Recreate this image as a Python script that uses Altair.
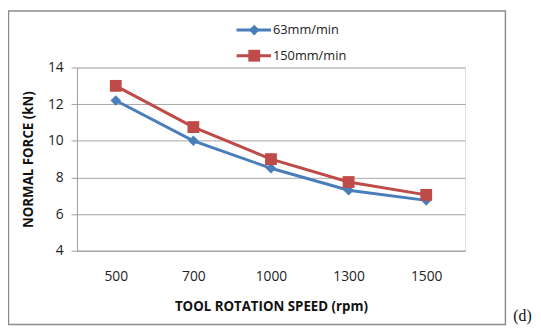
import altair as alt
import pandas as pd

# ---- data ----
rpm = ["500", "700", "1000", "1300", "1500"]
series_names = ["63mm/min", "150mm/min"]
force_63 = [12.2, 10.0, 8.5, 7.3, 6.75]
force_150 = [13.0, 10.75, 9.0, 7.75, 7.05]
y_ticks = [4, 6, 8, 10, 12, 14]
colors = ["#4A7EBB", "#BE4B48"]
shapes = ["diamond", "square"]
marker_sizes = [115, 144]

rows = []
for s, vals in zip(series_names, [force_63, force_150]):
    for r, v in zip(rpm, vals):
        rows.append({"rpm": r, "force": v, "series": s})
df = pd.DataFrame(rows)

W, H = 394, 186
FONT = "Open Sans"

x_enc = alt.X("rpm:N", sort=rpm,
              axis=alt.Axis(title="TOOL ROTATION SPEED (rpm)", labelAngle=0,
                            ticks=False, labelPadding=19, titlePadding=17,
                            domainColor="#a0a0a0", labelFontSize=14,
                            titleFontSize=13.5, titleFontWeight="bold",
                            labelColor="#222", titleColor="#111"))
y_enc = alt.Y("force:Q", scale=alt.Scale(domain=[4, 14], nice=False, zero=False),
              axis=alt.Axis(title="NORMAL FORCE (kN)", values=y_ticks, tickSize=6,
                            labelPadding=8, titlePadding=12, gridColor="#a6a6a6",
                            domainColor="#a0a0a0", tickColor="#a0a0a0",
                            labelFontSize=14, titleFontSize=13.5,
                            titleFontWeight="bold", labelColor="#222",
                            titleColor="#111"))
color_enc = alt.Color("series:N", scale=alt.Scale(domain=series_names, range=colors),
                      legend=None)
shape_enc = alt.Shape("series:N", scale=alt.Scale(domain=series_names, range=shapes),
                      legend=None)
size_enc = alt.Size("series:N", scale=alt.Scale(domain=series_names, range=marker_sizes),
                    legend=None)

lines = alt.Chart(df).mark_line(strokeWidth=3).encode(
    x=x_enc, y=y_enc, color=color_enc, detail="series:N")
points = alt.Chart(df).mark_point(filled=True, opacity=1).encode(
    x=x_enc, y=y_enc, color=color_enc, shape=shape_enc, size=size_enc)

# ---- manual legend (decoration) ----
legend_layers = []
for i, (s, c, sh, ms) in enumerate(zip(series_names, colors, shapes, marker_sizes)):
    ly = -38 + i * 26
    d = pd.DataFrame({"label": [s]})
    base = alt.Chart(d)
    legend_layers.append(base.mark_rule(color=c, strokeWidth=3).encode(
        x=alt.value(162), x2=alt.value(197), y=alt.value(ly)))
    legend_layers.append(base.mark_point(filled=True, opacity=1, color=c, shape=sh,
                                         size=ms).encode(
        x=alt.value(180), y=alt.value(ly)))
    legend_layers.append(base.mark_text(align="left", baseline="middle", font=FONT,
                                        fontSize=13, color="#222").encode(
        x=alt.value(199), y=alt.value(ly), text="label:N"))

border = alt.Chart(pd.DataFrame({"a": [0]})).mark_rect(
    fill=None, stroke="#8c8c8c", strokeWidth=1.5).encode(
    x=alt.value(-69.5), x2=alt.value(435), y=alt.value(-57.5), y2=alt.value(261))

tag = alt.Chart(pd.DataFrame({"t": ["(d)"]})).mark_text(
    align="left", baseline="middle", font="Liberation Serif", fontSize=16,
    color="#111").encode(x=alt.value(443), y=alt.value(252), text="t:N")

chart = alt.layer(border, lines, points, tag, *legend_layers).properties(
    width=W, height=H,
    autosize=alt.AutoSizeParams(type="none"),
    padding={"left": 70, "top": 58, "right": 69, "bottom": 76},
).configure_view(stroke=None).configure(font=FONT, background="white")

chart.save("out.html", embed_options={"renderer": "svg", "actions": False})
